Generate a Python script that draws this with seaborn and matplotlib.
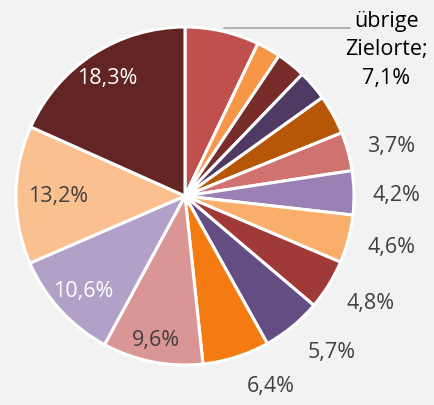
import numpy as np
import matplotlib
matplotlib.use("Agg")
import matplotlib.pyplot as plt
import seaborn as sns

# Slices clockwise from 12 o'clock
shares = [7.1, 2.3, 2.8, 2.9, 3.8, 3.7, 4.2, 4.6, 4.8, 5.7, 6.4, 9.6, 10.6, 13.2, 18.3]
labels = ["übrige\nZielorte;\n7,1%", "", "", "", "", "3,7%", "4,2%", "4,6%", "4,8%",
          "5,7%", "6,4%", "9,6%", "10,6%", "13,2%", "18,3%"]
colors = ["#C0504D", "#F79646", "#772C2A", "#4F3A63", "#B65708", "#D07270",
          "#9A80B5", "#F9AE6B", "#A03A38", "#644D83", "#F37B12", "#DA9695",
          "#B1A0C7", "#FAC090", "#632523"]
label_colors = ["black", None, None, None, None, "#404040", "#404040", "#404040",
                "#404040", "#404040", "#404040", "#404040", "white", "#404040", "white"]

# label anchor positions (in pie radii, relative to centre) as Excel placed them
label_pos = [(1.19, 0.87), None, None, None, None, (1.22, 0.30), (1.25, 0.01),
             (1.22, -0.30), (1.10, -0.63), (0.87, -0.92), (0.51, -1.12),
             (-0.17, -0.85), (-0.60, -0.56), (-0.75, 0.0), (-0.46, 0.70)]

sns.set_theme(style="white")
plt.rcParams["font.family"] = ["Open Sans", "DejaVu Sans"]

bg = "#F2F2F2"
fig = plt.figure(figsize=(4.34, 4.06), dpi=100, facecolor=bg)
ax = fig.add_axes([16 / 434, 40 / 406, 338 / 434, 338 / 406])
ax.set_facecolor(bg)

wedges, _ = ax.pie(shares, colors=colors, startangle=90, counterclock=False,
                   radius=1.0, wedgeprops=dict(edgecolor="white", linewidth=2.2))

for lab, pos, tc in zip(labels, label_pos, label_colors):
    if pos is None:
        continue
    ax.text(pos[0], pos[1], lab, ha="center", va="center", fontsize=15.5,
            color=tc, linespacing=1.45)

# leader line for the "übrige Zielorte" label
ax.plot([0.23, 0.975], [0.995, 0.995], color="#A6A6A6", lw=1.2, clip_on=False)

ax.set_xlim(-1, 1)
ax.set_ylim(-1, 1)
ax.set_aspect("equal")
ax.axis("off")

fig.savefig("out.png", dpi=100, facecolor=bg)
